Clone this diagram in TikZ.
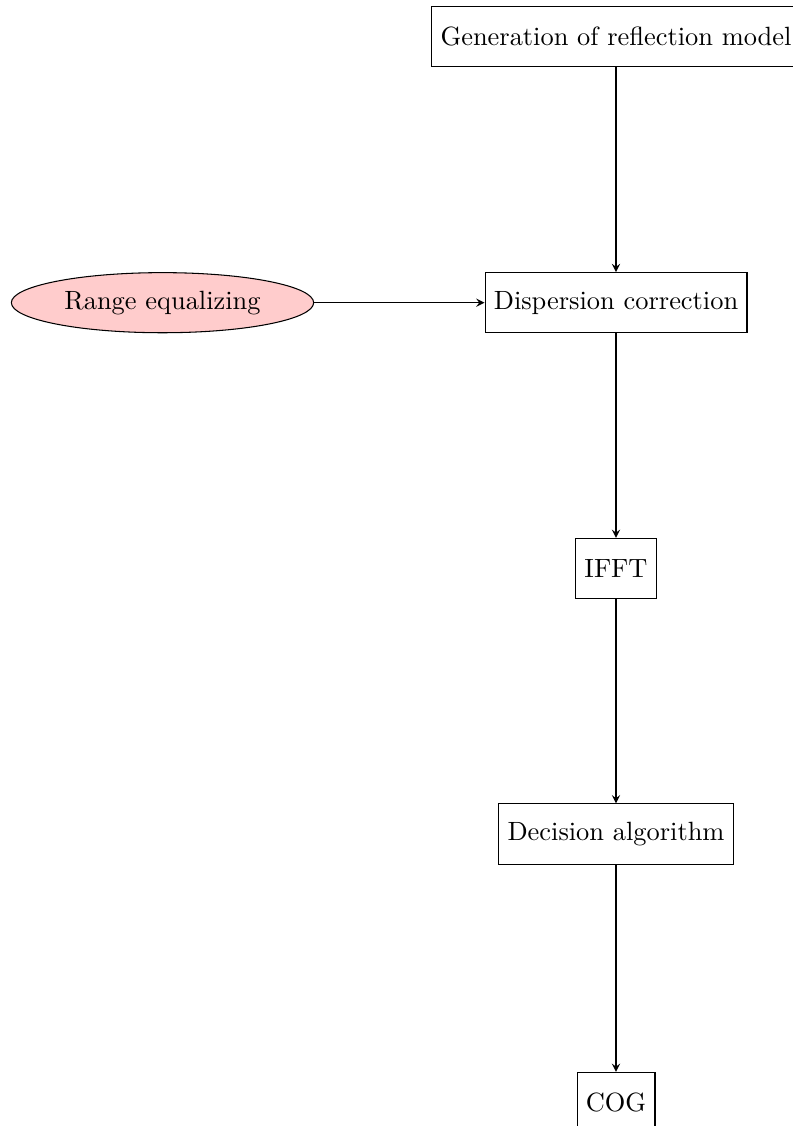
\documentclass[tikz,border=0pt]{standalone}
\usetikzlibrary{shapes.geometric,arrows}
\begin{document}
\begin{tikzpicture}[x=0.3788pt,y=0.3788pt,
  procbox/.style={draw, rectangle, minimum height=0.8cm, line width=0.4pt},
  startell/.style={draw, ellipse, fill=red!20, minimum height=0.8cm},
  flow/.style={draw, -stealth}]
\useasboundingbox (0,0) rectangle (792,-1126);
\node[procbox] (gen) at (616,-36.5) {Generation of reflection model};
\node[procbox] (disp) at (616,-302.7) {Dispersion correction};
\node[startell] (range) at (162.5,-302.7) {Range equalizing};
\node[procbox] (ifft) at (616,-568.5) {IFFT};
\node[procbox] (dec) at (616,-834) {Decision algorithm};
\node[procbox] (cog) at (616,-1102.5) {COG};
\draw[flow] (gen) -- (disp);
\draw[flow] (range) -- (disp);
\draw[flow] (disp) -- (ifft);
\draw[flow] (ifft) -- (dec);
\draw[flow] (dec) -- (cog);
\end{tikzpicture}
\end{document}
